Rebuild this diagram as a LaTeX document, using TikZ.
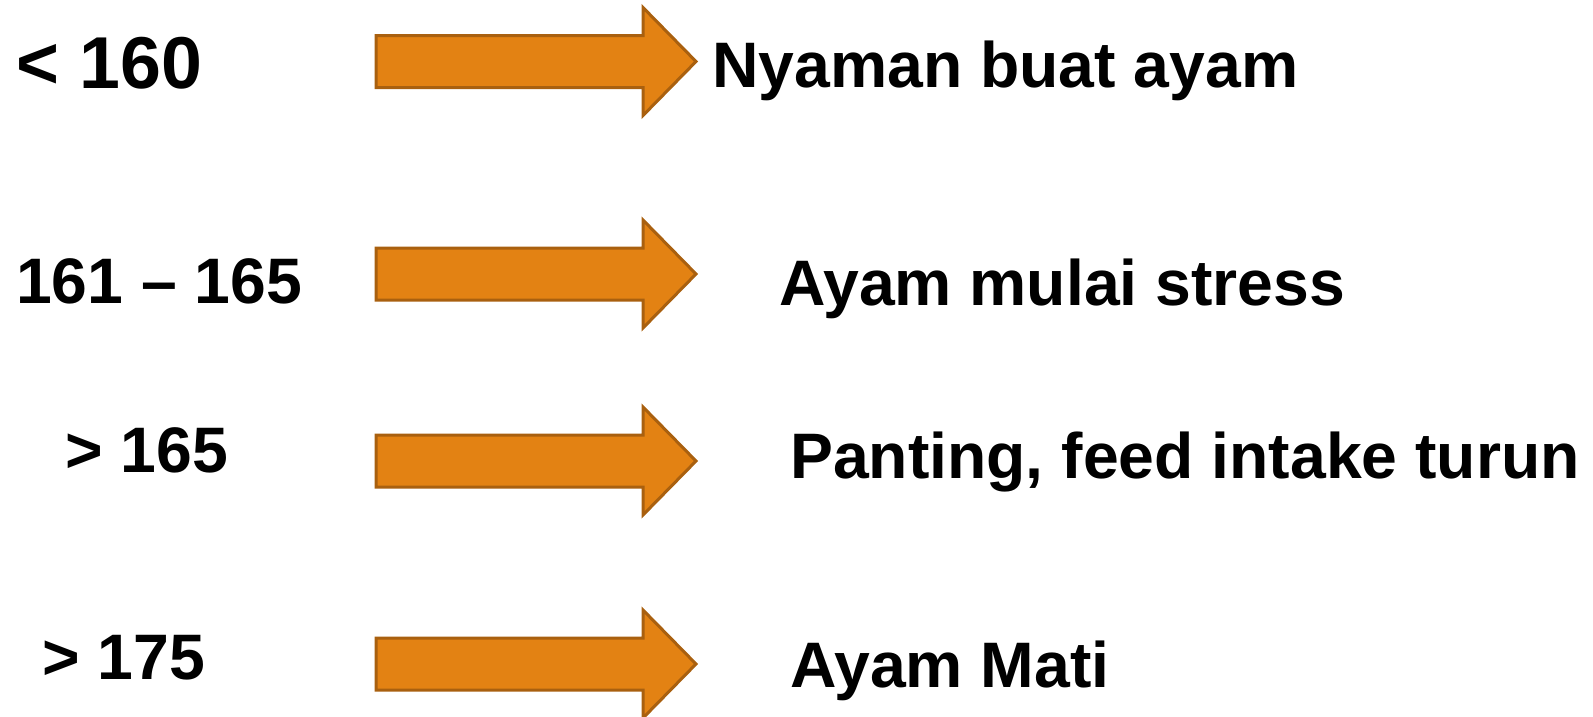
\documentclass[tikz,border=0pt]{standalone}
\usepackage{fontspec}
\setmainfont{Liberation Sans}
\definecolor{arrowfill}{HTML}{E38213}
\definecolor{arrowline}{HTML}{A9600F}
\begin{document}
\begin{tikzpicture}[x=1pt,y=-1pt,
  arrowshape/.style={fill=arrowfill, draw=arrowline, line width=3pt, line join=miter},
  lbl/.style={anchor=base west, inner sep=0pt, font=\bfseries\fontsize{64.3}{64.3}\selectfont},
  biglbl/.style={lbl, font=\bfseries\fontsize{73.5}{73.5}\selectfont}]
\useasboundingbox (0,0) rectangle (1593,716);
\foreach \cy in {61.5, 274, 461, 664} {
  \draw[arrowshape] (376,\cy-26) -- (643,\cy-26) -- (643,\cy-54) -- (696,\cy) -- (643,\cy+54) -- (643,\cy+26) -- (376,\cy+26) -- cycle;
}
\node[biglbl] (l1) at (16,88) {< 160};
\node[lbl] (l2) at (16,303) {161 -- 165};
\node[lbl] (l3) at (65,472) {> 165};
\node[lbl] (l4) at (42,679) {> 175};
\node[lbl] (r1) at (712,87) {Nyaman buat ayam};
\node[lbl] (r2) at (779,305) {Ayam mulai stress};
\node[lbl] (r3) at (790,478) {Panting, feed intake turun};
\node[lbl] (r4) at (790,687) {Ayam Mati};
\end{tikzpicture}
\end{document}
